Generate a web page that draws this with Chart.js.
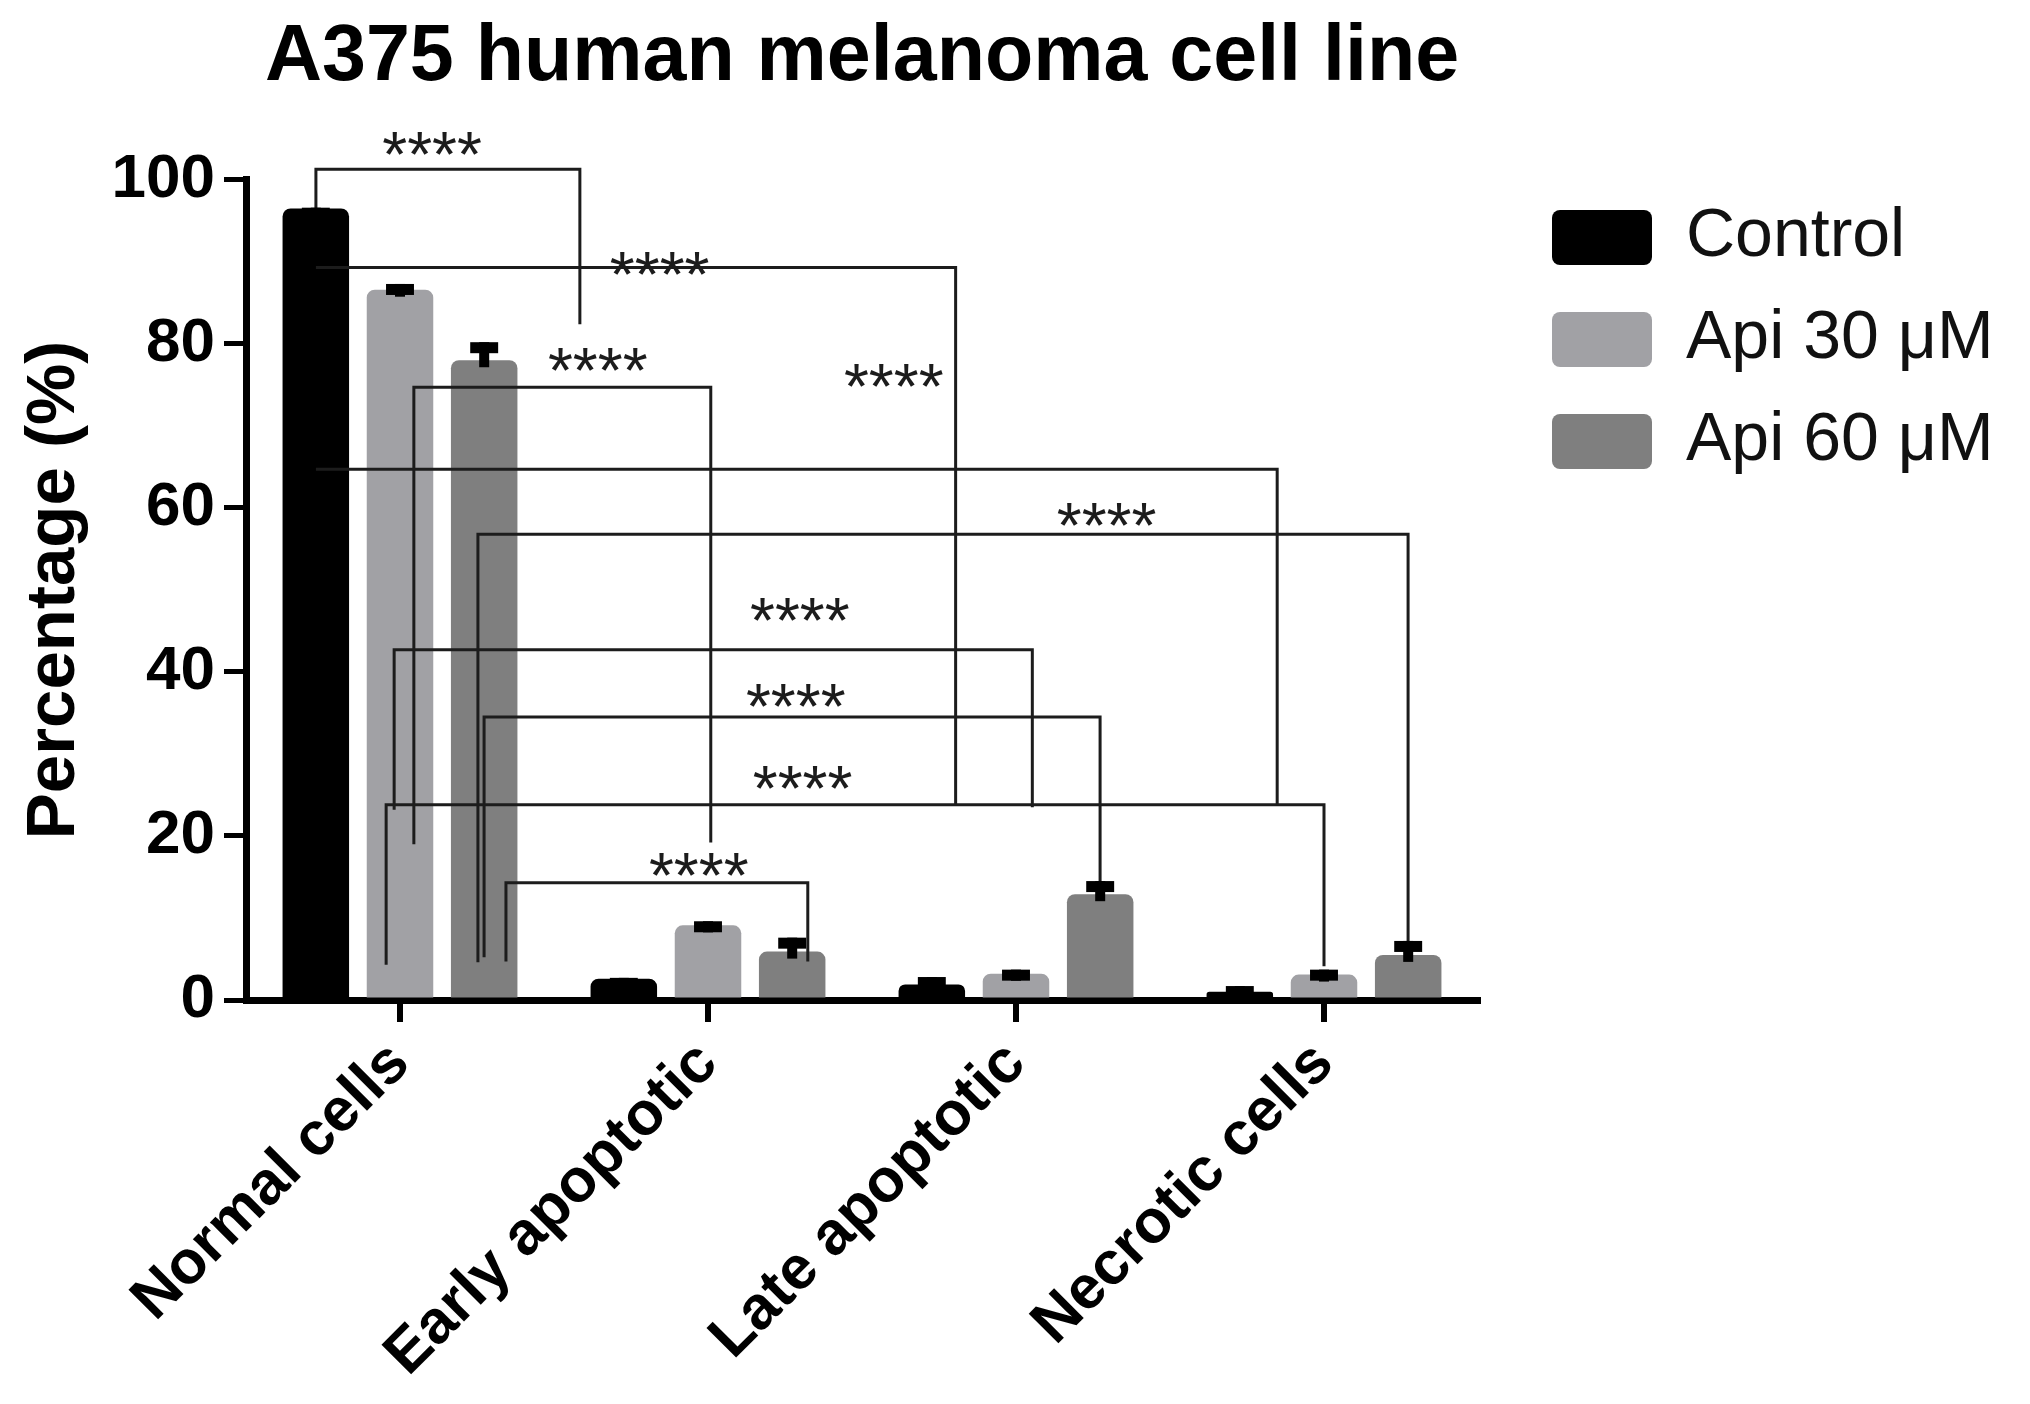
<!DOCTYPE html>
<html>
<head>
<meta charset="utf-8">
<script src="https://cdn.jsdelivr.net/npm/chart.js@4.4.0/dist/chart.umd.min.js"></script>
<style>
html,body{margin:0;padding:0;background:#ffffff;}
#wrap{width:2030px;height:1404px;}
</style>
</head>
<body>
<div id="wrap"><canvas id="c" width="2030" height="1404"></canvas></div>
<script>
// ---------- data ----------
const categories = ['Normal cells', 'Early apoptotic', 'Late apoptotic', 'Necrotic cells'];
const seriesNames = ['Control', 'Api 30 \u03BCM', 'Api 60 \u03BCM'];
const controlValues = [96.5, 2.6, 1.9, 1.0];
const api30Values   = [86.6, 9.1, 3.2, 3.1];
const api60Values   = [78.0, 5.9, 12.9, 5.5];
const controlErrors = [0.1, 0.1, 0.9, 0.7];
const api30Errors   = [0.7, 0.5, 0.5, 0.6];
const api60Errors   = [2.2, 1.7, 1.6, 1.7];
const yTickValues   = [0, 20, 40, 60, 80, 100];

// significance brackets (x in category-index units, y in % units)
const bracketFrom     = [-0.273, -0.273, 0.045, -0.273, 0.253, -0.019, 0.273, -0.045, 0.344];
const bracketTo       = [0.584, 1.804, 1.009, 2.848, 3.273, 2.053, 2.273, 3.000, 1.324];
const bracketLevel    = [101.3, 89.3, 74.7, 64.7, 56.8, 42.7, 34.5, 23.8, 14.3];
const bracketFromEnd  = [95.3, 89.3, 19.0, 64.7, 4.6, 23.2, 5.2, 4.3, 4.7];
const bracketToEnd    = [82.4, 23.8, 19.2, 23.8, 6.5, 23.5, 14.0, 4.1, 4.7];
const starX           = [0.104, 0.843, 0.642, 1.603, 2.294, 1.298, 1.285, 1.307, 0.970];
const starY           = [104.8, 90.2, 78.5, 76.6, 59.6, 48.0, 37.5, 27.5, 16.9];
const starText        = ['****', '****', '****', '****', '****', '****', '****', '****', '****'];

// ---------- style ----------
const FONT = "'Liberation Sans', Arial, Helvetica, sans-serif";
const colors = ['#000000', '#a1a1a5', '#7f7f7f'];
const valueSets = [controlValues, api30Values, api60Values];
const errorSets = [controlErrors, api30Errors, api60Errors];

const CANVAS_W = 2030, CANVAS_H = 1404;
const PLOT_RIGHT = 1478, PLOT_LEFT = 246, PLOT_BOTTOM = 1000;
const LEG_FONT = 68, LEG_BOX_W = 100, LEG_BOX_H = 55, LEG_PAD = 34;
const LEG_LEFT = 1518, LEG_TOP = 169.5;

// measure legend width so that the plot area ends at PLOT_RIGHT
const mctx = document.createElement('canvas').getContext('2d');
mctx.font = LEG_FONT + 'px ' + FONT;
let maxTextW = 0;
seriesNames.forEach(s => { maxTextW = Math.max(maxTextW, mctx.measureText(s).width); });
const legendW = LEG_PAD + LEG_BOX_W + LEG_FONT / 2 + maxTextW + 10;
const padRight = Math.max(0, CANVAS_W - PLOT_RIGHT - legendW);

Chart.defaults.font.family = FONT;
Chart.defaults.color = '#000';

const legendPlace = {
  id: 'legendPlace',
  afterLayout(chart) {
    const lg = chart.legend;
    if (!lg) return;
    const dx = LEG_LEFT - lg.left, dy = LEG_TOP - lg.top;
    lg.left += dx; lg.right += dx;
    lg.top += dy; lg.bottom += dy;
  }
};

const annotations = {
  id: 'annotations',
  afterDatasetsDraw(chart) {
    const ctx = chart.ctx, xs = chart.scales.x, ys = chart.scales.y;
    ctx.save();
    // brackets
    ctx.strokeStyle = '#1c1c1c';
    ctx.lineWidth = 3;
    ctx.lineJoin = 'miter';
    for (let i = 0; i < bracketLevel.length; i++) {
      const x1 = xs.getPixelForValue(bracketFrom[i]);
      const x2 = xs.getPixelForValue(bracketTo[i]);
      const yb = ys.getPixelForValue(bracketLevel[i]);
      ctx.beginPath();
      ctx.moveTo(x1, ys.getPixelForValue(bracketFromEnd[i]));
      ctx.lineTo(x1, yb);
      ctx.lineTo(x2, yb);
      ctx.lineTo(x2, ys.getPixelForValue(bracketToEnd[i]));
      ctx.stroke();
    }
    // stars
    ctx.fillStyle = '#1c1c1c';
    ctx.font = '64px ' + FONT;
    ctx.textAlign = 'center';
    ctx.textBaseline = 'alphabetic';
    for (let i = 0; i < starText.length; i++) {
      const x = xs.getPixelForValue(starX[i]);
      const y = ys.getPixelForValue(starY[i]);
      ctx.fillText(starText[i], x, y + 0.575 * 64);
    }
    // error bars
    ctx.fillStyle = '#000';
    chart.data.datasets.forEach((ds, di) => {
      const meta = chart.getDatasetMeta(di);
      meta.data.forEach((bar, i) => {
        const v = valueSets[di][i], e = errorSets[di][i];
        const top = ys.getPixelForValue(v + e);
        const base = ys.getPixelForValue(v);
        const capW = bar.width * 0.42;
        const capH = 11;
        ctx.fillRect(bar.x - capW / 2, top, capW, capH);
        const stemBottom = Math.max(top + capH, base + 7);
        ctx.fillRect(bar.x - 5, top, 10, stemBottom - top);
      });
    });
    ctx.restore();
  }
};

new Chart(document.getElementById('c'), {
  type: 'bar',
  data: {
    labels: categories,
    datasets: seriesNames.map((name, i) => ({
      label: name,
      data: valueSets[i],
      backgroundColor: colors[i],
      borderWidth: 0,
      borderRadius: 8,
      borderSkipped: 'start',
      categoryPercentage: 0.82,
      barPercentage: 0.79
    }))
  },
  options: {
    responsive: false,
    animation: false,
    layout: { padding: { top: 0, left: 0, bottom: 0, right: padRight } },
    plugins: {
      tooltip: { enabled: false },
      title: {
        display: true,
        text: 'A375 human melanoma cell line',
        fullSize: false,
        color: '#000',
        font: { size: 79, weight: 'bold', family: FONT },
        padding: { top: 11, bottom: 74 }
      },
      legend: {
        display: true,
        position: 'right',
        align: 'start',
        labels: {
          boxWidth: LEG_BOX_W,
          boxHeight: LEG_BOX_H,
          padding: LEG_PAD,
          color: '#111',
          useBorderRadius: true,
          borderRadius: 8,
          font: { size: LEG_FONT, family: FONT }
        }
      }
    },
    scales: {
      x: {
        offset: true,
        afterFit(s) { s.height = CANVAS_H - PLOT_BOTTOM; },
        grid: {
          display: true, drawOnChartArea: false, drawTicks: true, offset: false,
          tickLength: 22, tickWidth: 6, tickColor: '#000', lineWidth: 6, color: '#000'
        },
        border: { display: true, width: 7, color: '#000' },
        ticks: {
          autoSkip: false, minRotation: 45, maxRotation: 45, padding: 6,
          color: '#000', font: { size: 61, weight: 'bold', family: FONT }
        }
      },
      y: {
        min: 0, max: 100,
        afterFit(s) { s.width = PLOT_LEFT; },
        afterBuildTicks(s) { s.ticks = yTickValues.map(v => ({ value: v })); },
        grid: {
          display: true, drawOnChartArea: false, drawTicks: true,
          tickLength: 22, tickWidth: 5, tickColor: '#000', lineWidth: 5, color: '#000'
        },
        border: { display: true, width: 7, color: '#000' },
        ticks: {
          padding: 9, color: '#000',
          font: { size: 62, weight: 'bold', family: FONT }
        },
        title: {
          display: true, text: 'Percentage (%)', color: '#000',
          font: { size: 69, weight: 'bold', family: FONT },
          padding: { top: 14, bottom: 0 }
        }
      }
    }
  },
  plugins: [legendPlace, annotations]
});
</script>
</body>
</html>
